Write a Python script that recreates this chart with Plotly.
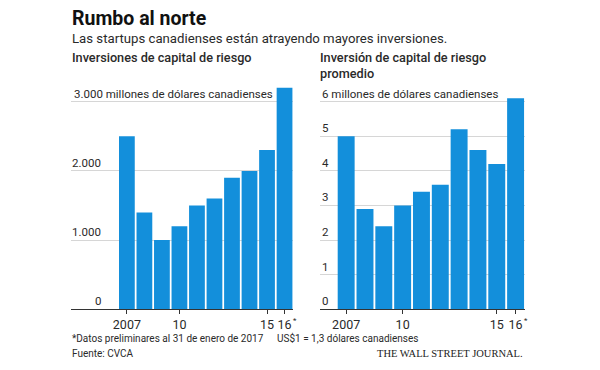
import plotly.graph_objects as go

# ---- data ----
years = [2007, 2008, 2009, 2010, 2011, 2012, 2013, 2014, 2015, 2016]
total_investment = [2500, 1400, 1000, 1200, 1500, 1600, 1900, 2000, 2300, 3200]   # millones CAD
avg_investment = [5.0, 2.9, 2.4, 3.0, 3.4, 3.6, 5.2, 4.6, 4.2, 6.1]               # millones CAD
x_tickvals = [2007, 2010, 2015, 2016]
x_ticktext = ["2007", "10", "15", "16"]
prelim_year = 2016
left_yticks = [0, 1000, 2000, 3000]
left_ylabels = ["0", "1.000", "2.000", "3.000 millones de dólares canadienses"]
right_yticks = [0, 1, 2, 3, 4, 5, 6]
right_ylabels = ["0", "1", "2", "3", "4", "5", "6 millones de dólares canadienses"]

# page body has an 8px default margin: figure drawn at (8,8)
OFF = 8
W, H = 600 - OFF, 370 - OFF
BLUE = "#138fdb"
TXT = "#2a2a2a"
FONT = "Roboto"

def xp(px):
    return (px - OFF) / W

def yp(py):
    return 1 - (py - OFF) / H

fig = go.Figure()
fig.add_trace(go.Bar(x=years, y=total_investment, marker_color=BLUE,
                     marker_line_width=0, xaxis="x", yaxis="y", hoverinfo="skip"))
fig.add_trace(go.Bar(x=years, y=avg_investment, marker_color=BLUE,
                     marker_line_width=0, xaxis="x2", yaxis="y2", hoverinfo="skip"))

ydom = [yp(309.3), yp(80.9)]
common_x = dict(tickmode="array", tickvals=x_tickvals, ticktext=x_ticktext,
                ticks="outside", ticklen=4, tickwidth=1, tickcolor="#333",
                showline=True, linecolor="#333", linewidth=1, showgrid=False,
                zeroline=False, tickangle=0,
                tickfont=dict(family=FONT, size=12.5, color=TXT),
                fixedrange=True)
common_y = dict(showticklabels=False, ticks="", showline=False, zeroline=False,
                showgrid=True, gridcolor="#d6d6d6", gridwidth=1, fixedrange=True)

fig.update_layout(
    width=W, height=H,
    margin=dict(l=0, r=0, t=0, b=0),
    paper_bgcolor="white", plot_bgcolor="white",
    showlegend=False, bargap=0.1,
    xaxis=dict(domain=[xp(71), xp(293.3)], range=[2003.81, 2016.5], anchor="y", **common_x),
    yaxis=dict(domain=ydom, range=[0, 3300], anchor="x",
               tickmode="array", tickvals=left_yticks[1:], **common_y),
    xaxis2=dict(domain=[xp(320), xp(525)], range=[2005.61, 2016.5], anchor="y2", **common_x),
    yaxis2=dict(domain=ydom, range=[0, 6.6], anchor="x2",
                tickmode="array", tickvals=right_yticks[1:], **common_y),
)

ann = []
LBL = dict(family=FONT, size=11.5, color=TXT)
for v, t in zip(left_yticks, left_ylabels):
    if v == left_yticks[-1]:
        ann.append(dict(x=xp(71.5), xref="paper", y=v, yref="y", text=t, xanchor="left",
                        yanchor="bottom", yshift=-1, showarrow=False, font=LBL))
    else:
        ann.append(dict(x=xp(102.5), xref="paper", y=v, yref="y", text=t, xanchor="right",
                        yanchor="bottom", yshift=-1, showarrow=False, font=LBL))
for v, t in zip(right_yticks, right_ylabels):
    ann.append(dict(x=xp(319.5), xref="paper", y=v, yref="y2", text=t, xanchor="left",
                    yanchor="bottom", yshift=-1, showarrow=False, font=LBL))

# asterisk marking preliminary data on the last tick label
for xr in ("x", "x2"):
    ann.append(dict(x=prelim_year, xref=xr, y=yp(320.5), yref="paper", text="*",
                    xanchor="left", yanchor="middle", xshift=6, showarrow=False,
                    font=dict(family=FONT, size=8, color=TXT)))

def txt(x, y, t, size, weight="normal", family=FONT, color=TXT, xanchor="left"):
    ann.append(dict(x=xp(x), y=yp(y), xref="paper", yref="paper", text=t,
                    xanchor=xanchor, yanchor="middle", showarrow=False,
                    font=dict(family=family, size=size, color=color, weight=weight)))

txt(70, 18, "Rumbo al norte", 19.5, weight="bold", color="#111")
txt(70, 38.5, "Las startups canadienses están atrayendo mayores inversiones.", 13.2)
txt(70, 57.5, "Inversiones de capital de riesgo", 12.7, weight=500)
txt(318, 57.5, "Inversión de capital de riesgo", 12.7, weight=500)
txt(318, 73.5, "promedio", 12.7, weight=500)
txt(70, 338, "*Datos preliminares al 31 de enero de 2017", 10)
txt(275, 338, "US$1 = 1,3 dólares canadienses", 10)
txt(70, 353, "Fuente: CVCA", 10)
txt(525, 353, "THE WALL STREET JOURNAL.", 10.5, family="Liberation Serif", color="#222",
    xanchor="right")

fig.update_layout(annotations=ann)
fig.write_html("out.html")
